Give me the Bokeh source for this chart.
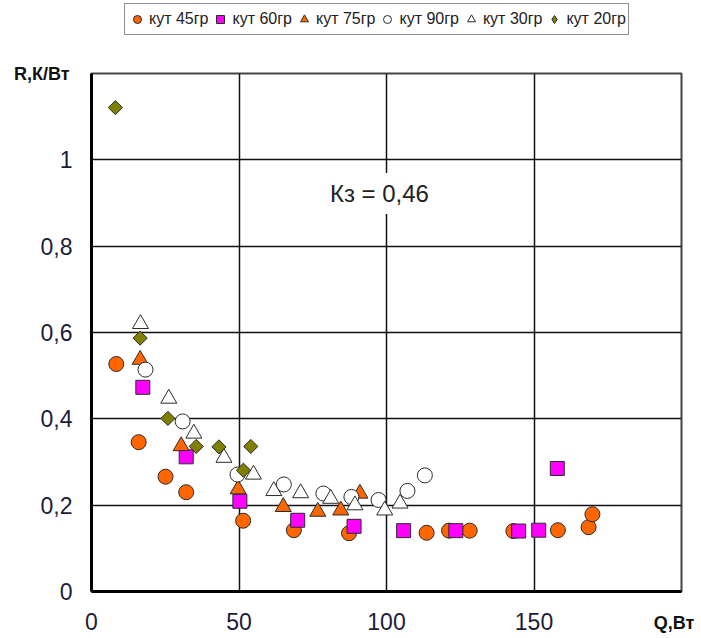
import math
from bokeh.plotting import figure
from bokeh.layouts import column
from bokeh.models import (Range1d, FixedTicker, Label, Legend, LegendItem,
                          LinearAxis)
from bokeh.embed import file_html
from bokeh.resources import INLINE

# ---- data ----
q45 = [8.4, 16.0, 25.1, 32.1, 51.4, 68.6, 87.3, 113.6, 121.2, 128.2, 143.0, 158.1, 168.5, 169.8]
r45 = [0.527, 0.346, 0.266, 0.230, 0.164, 0.142, 0.135, 0.136, 0.141, 0.141, 0.140, 0.142, 0.149, 0.179]

q60 = [17.4, 32.1, 50.3, 69.9, 89.0, 105.8, 123.5, 144.8, 151.6, 157.9]
r60 = [0.473, 0.312, 0.209, 0.165, 0.151, 0.141, 0.141, 0.140, 0.142, 0.285]

q75 = [16.5, 30.4, 49.7, 65.0, 76.7, 84.5, 91.0]
r75 = [0.537, 0.337, 0.237, 0.196, 0.185, 0.188, 0.227]

q90 = [18.3, 30.9, 49.5, 65.2, 78.6, 88.1, 97.3, 107.1, 113.0]
r90 = [0.514, 0.394, 0.271, 0.248, 0.227, 0.219, 0.212, 0.233, 0.269]

q30 = [16.6, 26.2, 34.7, 44.9, 54.9, 61.8, 70.9, 81.1, 89.3, 99.4, 104.6]
r30 = [0.620, 0.447, 0.366, 0.310, 0.271, 0.233, 0.228, 0.215, 0.200, 0.188, 0.204]

q20 = [8.1, 16.5, 25.9, 35.5, 43.2, 51.5, 54.0]
r20 = [1.121, 0.587, 0.401, 0.336, 0.335, 0.281, 0.336]

series_labels = ["кут 45гр", "кут 60гр", "кут 75гр", "кут 90гр", "кут 30гр", "кут 20гр"]

x_ticks = [0, 50, 100, 150]
x_tick_labels = ["0", "50", "100", "150"]
y_ticks = [0, 0.2, 0.4, 0.6, 0.8, 1]
y_tick_labels = ["0", "0,2", "0,4", "0,6", "0,8", "1"]

x_title = "Q,Вт"
x_title_at = 197.5
y_title = "R,К/Вт"
y_title_at = 1.2
note_text = "Кз = 0,46"

FONT = "Liberation Sans"
TICK_COLOR = "#1c1c38"
EDGE = "#2b2b2b"

# marker styles per series: (marker, size, fill, angle)
styles = [
    ("circle", 15, "#FF6600", 0.0),
    ("square", 14, "#FF00FF", 0.0),
    ("triangle", 16, "#FF6600", 0.0),
    ("circle", 15, "white", 0.0),
    ("triangle", 16, "white", 0.0),
    ("square", 10, "#808000", math.pi / 4),
]
series_q = [q45, q60, q75, q90, q30, q20]
series_r = [r45, r60, r75, r90, r30, r20]

LEG_H = 45

# ---------------- main chart ----------------
p = figure(width=701, height=638 - LEG_H,
           x_range=Range1d(0, 200), y_range=Range1d(0, 1.2),
           output_backend="svg", toolbar_location=None,
           min_border_left=91, min_border_right=20,
           min_border_top=73 - LEG_H, min_border_bottom=47)

p.background_fill_color = "white"
p.border_fill_color = "white"
p.outline_line_color = "#444444"
p.outline_line_width = 2

p.xaxis.ticker = FixedTicker(ticks=x_ticks)
p.yaxis.ticker = FixedTicker(ticks=y_ticks)
p.xaxis.major_label_overrides = dict(zip(x_ticks, x_tick_labels))
p.yaxis.major_label_overrides = dict(zip(y_ticks, y_tick_labels))
for ax in (p.xaxis, p.yaxis):
    ax.axis_line_color = "black"
    ax.axis_line_width = 3
    ax.major_tick_line_color = None
    ax.minor_tick_line_color = None
    ax.major_tick_out = 0
    ax.major_tick_in = 0
    ax.major_label_text_font = FONT
    ax.major_label_text_font_size = "23px"
    ax.major_label_text_color = TICK_COLOR
p.xaxis.major_label_standoff = 21
p.yaxis.major_label_standoff = 19

def title_axis(tick, text, standoff):
    a = LinearAxis(ticker=FixedTicker(ticks=[tick]),
                   major_label_overrides={tick: text})
    a.axis_line_color = None
    a.major_tick_line_color = None
    a.minor_tick_line_color = None
    a.major_tick_out = 0
    a.major_tick_in = 0
    a.major_label_standoff = standoff
    a.major_label_text_font = FONT
    a.major_label_text_font_size = "18px"
    a.major_label_text_font_style = "bold"
    a.major_label_text_color = "#111111"
    return a

p.add_layout(title_axis(x_title_at, x_title, -20), "below")
p.add_layout(title_axis(y_title_at, y_title, -32), "left")

p.xgrid.ticker = FixedTicker(ticks=x_ticks)
p.ygrid.ticker = FixedTicker(ticks=y_ticks)
for g in (p.xgrid, p.ygrid):
    g.grid_line_color = "#111111"
    g.grid_line_width = 1.5
    g.grid_line_alpha = 1.0

for q, r, (mk, sz, fc, ang) in zip(series_q, series_r, styles):
    p.scatter(q, r, marker=mk, size=sz, angle=ang, fill_color=fc,
              line_color=EDGE, line_width=1)

p.add_layout(Label(x=97.6, y=0.922, text=note_text, text_align="center",
                   text_baseline="middle", text_font=FONT, text_font_size="24px",
                   text_color="#222222", background_fill_color="white",
                   background_fill_alpha=1.0, padding=7))

# ---------------- legend strip ----------------
lg = figure(width=701, height=LEG_H, x_range=Range1d(0, 1), y_range=Range1d(0, 1),
            output_backend="svg", toolbar_location=None,
            x_axis_type=None, y_axis_type=None,
            min_border=0, min_border_left=0, min_border_right=0,
            min_border_top=0, min_border_bottom=0)
lg.outline_line_color = None
lg.background_fill_color = "white"
lg.border_fill_color = "white"
lg.xgrid.visible = False
lg.ygrid.visible = False

leg_markers = ["circle", "square", "triangle", "circle", "triangle", "diamond"]
items = []
for lab, q, r, (mk, sz, fc, ang), lmk in zip(series_labels, series_q, series_r,
                                             styles, leg_markers):
    rr = lg.scatter(q, r, marker=lmk, size=10, fill_color=fc,
                    line_color=EDGE, line_width=1, visible=False)
    items.append(LegendItem(label=lab, renderers=[rr]))

# the strip's frame is aligned with the chart's frame (left edge at 91 px)
legend = Legend(items=items, orientation="horizontal", location=(33, 10))
legend.border_line_color = "#222222"
legend.border_line_width = 1.5
legend.background_fill_color = "white"
legend.background_fill_alpha = 1.0
legend.label_text_font = FONT
legend.label_text_font_size = "16px"
legend.label_text_color = "#222222"
legend.glyph_width = 20
legend.glyph_height = 20
legend.label_height = 26
legend.label_standoff = 2
legend.spacing = 2
legend.padding = 2
legend.margin = 0
legend.inactive_fill_alpha = 0
lg.add_layout(legend)

layout = column(lg, p, spacing=0)
open("out.html", "w").write(file_html(layout, INLINE))
